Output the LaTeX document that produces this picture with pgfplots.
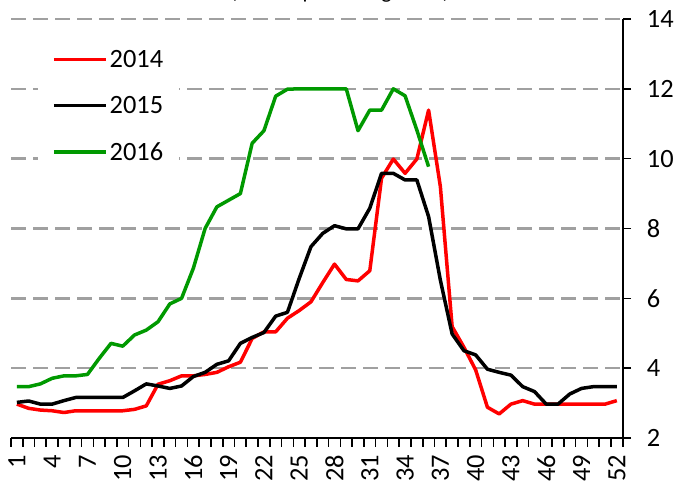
\documentclass[border=0pt]{standalone}
\usepackage{pgfplots}
\pgfplotsset{compat=1.18}
\usepackage{fontspec}
\setmainfont{Carlito}
\definecolor{cred}{RGB}{255,0,0}
\definecolor{cgreen}{RGB}{0,153,0}
\definecolor{cgrid}{RGB}{160,160,160}
\begin{document}
\begin{tikzpicture}[x=1bp,y=1bp]
\begin{axis}[
  scale only axis,
  width=611.7bp, height=419bp,
  xmin=0.5, xmax=52.5, ymin=2, ymax=14,
  axis x line*=bottom, axis y line*=right,
  axis line style={line width=1.6bp, black},
  xtick={1,4,...,52},
  minor xtick={0.5,1.5,...,52.5},
  ytick={2,4,...,14},
  major x tick style={draw=none},
  minor x tick style={line width=1.6bp, black},
  major y tick style={line width=1.6bp, black},
  tick align=outside,
  minor tick length=8.5bp,
  major tick length=8.5bp,
  ymajorgrids,
  grid style={cgrid, line width=2.6bp, dash pattern=on 15bp off 7bp},
  font=\fontsize{26.5}{31}\selectfont,
  tick label style={font=\fontsize{26.5}{31}\selectfont},
  /pgf/number format/assume math mode=true,
  xticklabel style={rotate=90, anchor=east, inner sep=0pt},
  xticklabel shift=8.5bp,
  yticklabel style={anchor=west, inner sep=0pt},
  yticklabel shift=15.5bp,
  clip=false,
  legend cell align=left,
  legend style={at={(27bp,394bp)}, anchor=north west, draw=none, fill=white,
    inner xsep=14bp, inner ysep=4bp, row sep=23.5bp,
    font=\fontsize{26.5}{31}\selectfont},
  legend image code/.code={\draw[#1] (0bp,0bp) -- (52bp,0bp);},
  every axis plot/.append style={line width=3.5bp, line join=round},
]
\addplot[cred] coordinates {
(1,2.97)(2,2.85)(3,2.80)(4,2.78)(5,2.73)(6,2.78)(7,2.78)(8,2.78)(9,2.78)(10,2.78)
(11,2.82)(12,2.92)(13,3.54)(14,3.64)(15,3.78)(16,3.78)(17,3.82)(18,3.88)(19,4.04)(20,4.17)
(21,4.85)(22,5.04)(23,5.04)(24,5.43)(25,5.65)(26,5.90)(27,6.45)(28,6.98)(29,6.54)(30,6.50)
(31,6.79)(32,9.44)(33,9.99)(34,9.58)(35,9.99)(36,11.39)(37,9.2)(38,5.19)(39,4.6)(40,3.95)
(41,2.88)(42,2.69)(43,2.97)(44,3.07)(45,2.97)(46,2.97)(47,2.97)(48,2.97)(49,2.97)(50,2.97)
(51,2.97)(52,3.07)};
\addlegendentry{2014}
\addplot[black] coordinates {
(1,3.02)(2,3.06)(3,2.97)(4,2.97)(5,3.07)(6,3.16)(7,3.16)(8,3.16)(9,3.16)(10,3.16)
(11,3.35)(12,3.55)(13,3.49)(14,3.42)(15,3.49)(16,3.76)(17,3.88)(18,4.11)(19,4.21)(20,4.71)
(21,4.88)(22,5.02)(23,5.49)(24,5.60)(25,6.57)(26,7.48)(27,7.86)(28,8.08)(29,7.99)(30,7.99)
(31,8.58)(32,9.58)(33,9.58)(34,9.39)(35,9.39)(36,8.34)(37,6.52)(38,4.98)(39,4.50)(40,4.38)
(41,3.97)(42,3.88)(43,3.80)(44,3.47)(45,3.33)(46,2.97)(47,2.97)(48,3.26)(49,3.42)(50,3.47)
(51,3.47)(52,3.47)};
\addlegendentry{2015}
\addplot[cgreen] coordinates {
(1,3.47)(2,3.47)(3,3.55)(4,3.71)(5,3.78)(6,3.78)(7,3.82)(8,4.28)(9,4.71)(10,4.63)
(11,4.95)(12,5.09)(13,5.33)(14,5.84)(15,6.0)(16,6.86)(17,8.0)(18,8.62)(19,8.81)(20,9.0)
(21,10.44)(22,10.80)(23,11.79)(24,11.99)(25,12.0)(26,12.0)(27,12.0)(28,12.0)(29,12.0)(30,10.8)
(31,11.39)(32,11.39)(33,12.0)(34,11.80)(35,10.82)(36,9.77)};
\addlegendentry{2016}
\end{axis}
\node[anchor=base, font=\fontsize{22}{26}\selectfont] at (329bp,439bp) {(annual percentage rate)};
\pgfresetboundingbox
\path[use as bounding box] (-11bp,-47bp) rectangle (664bp,438bp);
\end{tikzpicture}
\end{document}
